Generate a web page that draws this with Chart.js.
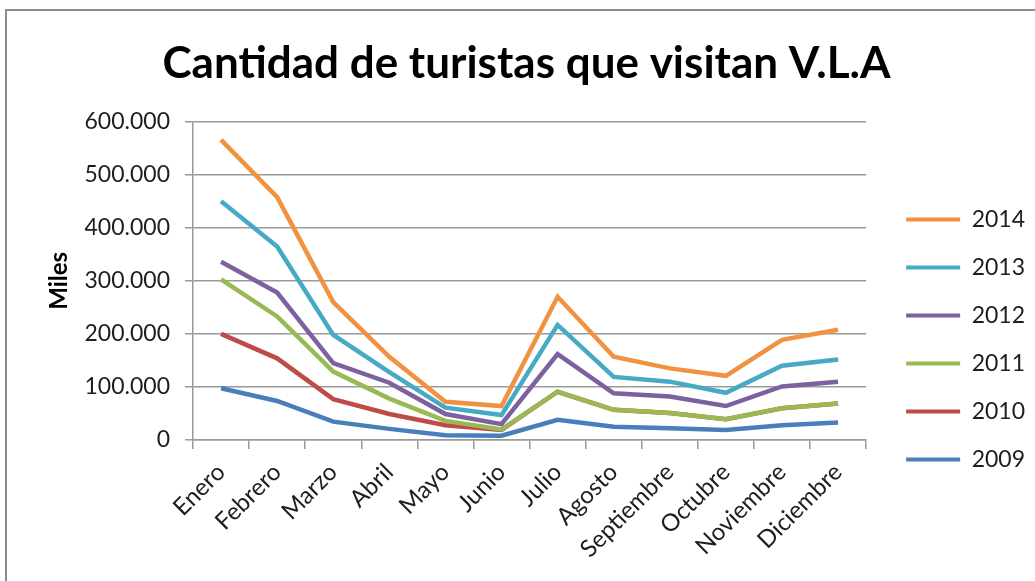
<!DOCTYPE html>
<html>
<head>
<meta charset="utf-8">
<script src="https://cdn.jsdelivr.net/npm/chart.js@4"></script>
<style>
    html, body { margin: 0; padding: 0; background: #fff; overflow: hidden; }
    #frame { position: absolute; left: 5px; top: 9px; width: 1060px; height: 700px; border: 2px solid #8c8c8c; }
    /* the canvas runs below the window so the legend sits where the original one does */
    #wrap { position: absolute; left: 0; top: 0; width: 1035px; height: 679px; }
</style>
</head>
<body>
<div id="frame"></div>
<div id="wrap"><canvas id="turistasChart"></canvas></div>
<script>
// Datos (turistas por mes)
const meses = ['Enero', 'Febrero', 'Marzo', 'Abril', 'Mayo', 'Junio', 'Julio', 'Agosto', 'Septiembre', 'Octubre', 'Noviembre', 'Diciembre'];
const anios = ['2014', '2013', '2012', '2011', '2010', '2009'];
const v2014 = [566000, 458000, 260000, 157000, 72000, 64000, 270000, 157000, 135000, 121000, 189000, 208000];
const v2013 = [450000, 365000, 198000, 128000, 61000, 47000, 217000, 119000, 110000, 89000, 140000, 152000];
const v2012 = [336000, 278000, 145000, 108000, 49000, 30000, 162000, 88000, 82000, 64000, 101000, 110000];
const v2011 = [303000, 233000, 129000, 78000, 36000, 20000, 91000, 57000, 51000, 39000, 60000, 69000];
const v2010 = [200000, 154000, 77000, 49000, 28000, 19000, 91000, 57000, 51000, 39000, 60000, 69000];
const v2009 = [97500, 73600, 34600, 21000, 9000, 8000, 38000, 25000, 22000, 19000, 28000, 33000];
const yTicks = [0, 100000, 200000, 300000, 400000, 500000, 600000];

const colores = ['#F09242', '#46AAC5', '#7D60A0', '#98B954', '#BE4B48', '#4A7EBB'];
const series = [v2014, v2013, v2012, v2011, v2010, v2009];

function formatMiles(v) {
    return String(v).replace(/\B(?=(\d{3})+(?!\d))/g, '.');
}

document.addEventListener('DOMContentLoaded', function() {
    const ctx = document.getElementById('turistasChart');
    const textColor = '#1e1e1e';
    const gridColor = '#9a9a9a';

    new Chart(ctx, {
        type: 'line',
        data: {
            labels: meses,
            datasets: series.map((s, i) => ({
                label: anios[i],
                data: s,
                borderColor: colores[i],
                backgroundColor: colores[i],
                borderWidth: 4.5,
                pointRadius: 0,
                tension: 0,
                fill: false
            }))
        },
        options: {
            responsive: true,
            maintainAspectRatio: false,
            animation: false,
            layout: { padding: { left: 18, right: 0, top: 0, bottom: 0 } },
            plugins: {
                title: {
                    display: true,
                    text: 'Cantidad de turistas que visitan V.L.A',
                    color: '#000',
                    font: { family: 'Lato', size: 44, weight: 'bold', lineHeight: 1.2 },
                    padding: { top: 37, bottom: 32 }
                },
                legend: {
                    position: 'right',
                    labels: {
                        color: textColor,
                        font: { family: 'Lato', size: 23 },
                        boxWidth: 54,
                        boxHeight: 4,
                        padding: 25,
                        generateLabels: chart => Chart.defaults.plugins.legend.labels.generateLabels(chart)
                            .map(l => ({ ...l, lineWidth: 0, fillStyle: l.strokeStyle }))
                    }
                },
                tooltip: { enabled: false }
            },
            scales: {
                x: {
                    offset: true,
                    grid: { offset: true, drawOnChartArea: false, color: gridColor, tickLength: 9, lineWidth: 1.5 },
                    border: { color: gridColor, width: 1.5 },
                    ticks: {
                        color: textColor,
                        font: { family: 'Lato', size: 24 },
                        maxRotation: 45,
                        minRotation: 45,
                        padding: 9,
                        autoSkip: false
                    },
                    afterFit: s => { s.height = 239; }
                },
                y: {
                    min: 0,
                    max: 600000,
                    afterBuildTicks: s => { s.ticks = yTicks.map(v => ({ value: v })); },
                    grid: { color: gridColor, tickLength: 8, lineWidth: 1.5 },
                    border: { color: gridColor, width: 1.5 },
                    ticks: {
                        color: textColor,
                        font: { family: 'Lato', size: 23 },
                        padding: 15,
                        callback: v => formatMiles(v)
                    },
                    title: {
                        display: true,
                        text: 'Miles',
                        color: '#000',
                        font: { family: 'Lato', size: 24, weight: 'bold' },
                        padding: { top: 27, bottom: 0 }
                    },
                    afterFit: s => { s.width = 175; }
                },
                espacio: {
                    position: 'right',
                    grid: { display: false },
                    border: { display: false },
                    ticks: { display: false },
                    afterFit: s => { s.width = 15; }
                }
            }
        }
    });
});
</script>
</body>
</html>
